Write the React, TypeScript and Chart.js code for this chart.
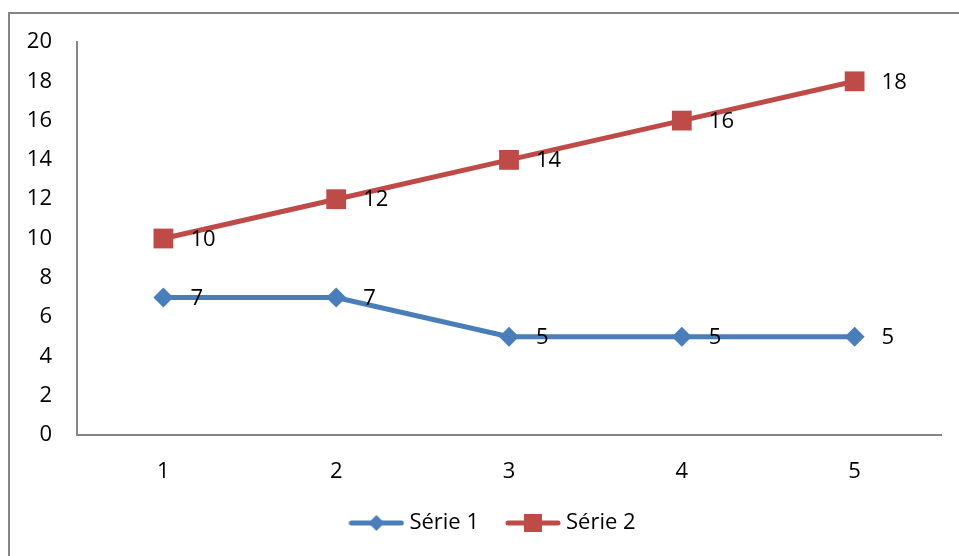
import React, { useEffect, useRef } from "react";
import { Chart, registerables } from "chart.js";

Chart.register(...registerables);

// Categories and series values
const categories = ["1", "2", "3", "4", "5"];
const serie1 = [7, 7, 5, 5, 5];
const serie2 = [10, 12, 14, 16, 18];
const seriesNames = ["Série 1", "Série 2"];

const BLUE = "#4A7EBB";
const RED = "#BE4B48";
const AXIS = "#868686";
const FONT = "'Open Sans', 'DejaVu Sans', sans-serif";
const FONT_SIZE = 22;
const LEGEND_PAD = 32;

// Legend swatch: a short line segment with the series marker in the middle
function makeSwatch(color: string, marker: "diamond" | "square"): HTMLCanvasElement {
  const c = document.createElement("canvas");
  c.width = 56;
  c.height = 22;
  const g = c.getContext("2d")!;
  g.strokeStyle = color;
  g.lineWidth = 5;
  g.lineCap = "round";
  g.beginPath();
  g.moveTo(3, 11);
  g.lineTo(53, 11);
  g.stroke();
  g.fillStyle = color;
  g.beginPath();
  if (marker === "diamond") {
    g.moveTo(28 - 8, 11);
    g.lineTo(28, 11 - 8);
    g.lineTo(28 + 8, 11);
    g.lineTo(28, 11 + 8);
    g.closePath();
  } else {
    g.rect(28 - 9, 11 - 9, 18, 18);
  }
  g.fill();
  return c;
}

// Value labels written to the right of each point
const valueLabels = {
  id: "valueLabels",
  afterDatasetsDraw(chart: any) {
    const ctx = chart.ctx;
    ctx.save();
    ctx.font = `${FONT_SIZE}px ${FONT}`;
    ctx.fillStyle = "#000";
    ctx.textAlign = "left";
    ctx.textBaseline = "middle";
    chart.data.datasets.forEach((ds: any, i: number) => {
      const meta = chart.getDatasetMeta(i);
      meta.data.forEach((pt: any, j: number) => {
        ctx.fillText(String(ds.data[j]), pt.x + 27, pt.y + 1);
      });
    });
    ctx.restore();
  },
};

// Centre the legend under the whole frame rather than the canvas, near the bottom edge
const legendPlacement = {
  id: "legendPlacement",
  afterLayout(chart: any) {
    const lg = chart.legend;
    if (!lg) return;
    lg.left = 49;
    lg.right = 941;
    lg.width = lg.right - lg.left;
    lg.top = 523 - LEGEND_PAD - FONT_SIZE / 2;
    lg.bottom = lg.top + lg.height;
  },
};

export default function App() {
  const ref = useRef<HTMLCanvasElement>(null);

  useEffect(() => {
    if (!ref.current) return;
    const swatches = [makeSwatch(BLUE, "diamond"), makeSwatch(RED, "square")];
    const chart = new Chart(ref.current, {
      type: "line",
      data: {
        labels: categories,
        datasets: [
          {
            label: seriesNames[0],
            data: serie1,
            borderColor: BLUE,
            backgroundColor: BLUE,
            borderWidth: 5,
            pointStyle: "rectRot",
            pointRadius: 10,
            pointBorderWidth: 0,
            pointBackgroundColor: BLUE,
            tension: 0,
          },
          {
            label: seriesNames[1],
            data: serie2,
            borderColor: RED,
            backgroundColor: RED,
            borderWidth: 5,
            pointStyle: "rect",
            pointRadius: 14,
            pointBorderWidth: 0,
            pointBackgroundColor: RED,
            tension: 0,
          },
        ],
      },
      options: {
        animation: false,
        responsive: false,
        maintainAspectRatio: false,
        font: { family: FONT, size: FONT_SIZE },
        color: "#000",
        layout: { padding: { left: 0, right: 18, top: 42, bottom: 2 } },
        scales: {
          x: {
            type: "category",
            offset: true,
            grid: { display: false, drawTicks: false },
            border: { display: true, color: AXIS, width: 2 },
            ticks: { color: "#000", font: { family: FONT, size: FONT_SIZE }, padding: 24, maxRotation: 0 },
            afterFit(scale: any) {
              scale.height = 55;
            },
          },
          y: {
            min: 0,
            max: 20,
            grid: { display: false, drawTicks: false },
            border: { display: true, color: AXIS, width: 2 },
            ticks: { stepSize: 2, color: "#000", font: { family: FONT, size: FONT_SIZE }, padding: 25 },
            afterFit(scale: any) {
              scale.width = 77;
            },
          },
        },
        plugins: {
          tooltip: { enabled: false },
          legend: {
            position: "bottom",
            labels: {
              usePointStyle: true,
              pointStyleWidth: 44,
              padding: LEGEND_PAD,
              color: "#000",
              font: { family: FONT, size: FONT_SIZE },
              generateLabels(c: any) {
                const items = Chart.defaults.plugins.legend.labels.generateLabels(c);
                return items.map((it: any, i: number) => ({ ...it, pointStyle: swatches[i] }));
              },
            },
          },
        },
      },
      plugins: [valueLabels, legendPlacement],
    } as any);
    return () => chart.destroy();
  }, []);

  return (
    <>
      <div
        style={{
          position: "fixed",
          left: 8,
          top: 12,
          width: 951,
          height: 544,
          borderTop: `2px solid ${AXIS}`,
          borderLeft: `2px solid ${AXIS}`,
          boxSizing: "border-box",
        }}
      />
      <canvas
        ref={ref}
        width={959}
        height={556}
        style={{ position: "fixed", left: 0, top: 0, width: 959, height: 556 }}
      />
    </>
  );
}
